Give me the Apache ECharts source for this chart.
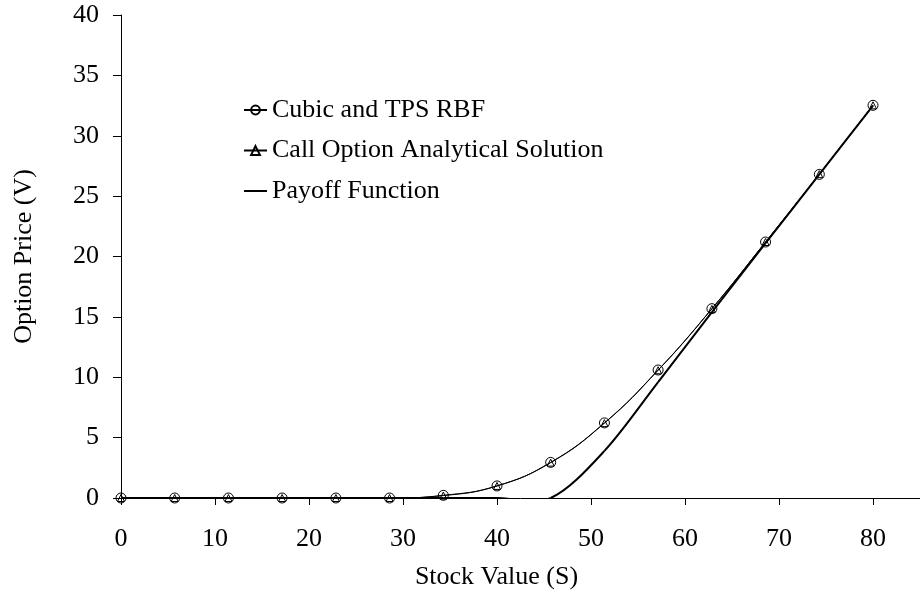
<!DOCTYPE html>
<html>
<head>
<meta charset="utf-8">
<script src="https://cdn.jsdelivr.net/npm/echarts@6/dist/echarts.min.js"></script>
<style>
  html, body { margin: 0; padding: 0; background: #fff; }
  #chart { width: 920px; height: 596px; }
</style>
</head>
<body>
<div id="chart"></div>
<script>
// Stock values at which the option price was evaluated
const stockValues = [0, 5.71, 11.43, 17.14, 22.86, 28.57, 34.29, 40, 45.71, 51.43, 57.14, 62.86, 68.57, 74.29, 80];

// Option prices from the cubic / TPS radial basis function scheme
const rbfPrices = [0, 0, 0, 0, 0, 0, 0.22, 1.0, 2.95, 6.22, 10.6, 15.68, 21.2, 26.8, 32.52];

// Option prices from the Black-Scholes analytical call formula
const analyticPrices = [0, 0, 0, 0, 0, 0, 0.2, 1.0, 2.93, 6.2, 10.58, 15.66, 21.2, 26.82, 32.52];

// Payoff max(S - K, 0) at the same stock values
const payoffValues = [0, 0, 0, 0, 0, 0, 0, 0, 0, 3.9, 9.6, 15.4, 21.1, 26.8, 32.5];

const seriesNames = ['Cubic and TPS RBF', 'Call Option Analytical Solution', 'Payoff Function'];

const xTicks = { min: 0, max: 85, interval: 10 };
const yTicks = { min: 0, max: 40, interval: 5 };

const FONT = "'Liberation Serif', 'Times New Roman', serif";

const pairs = (ys) => stockValues.map((x, i) => [x, ys[i]]);

// Catmull-Rom style smoothed segment between point i and i+1 (spreadsheet-like smoothing)
function smoothSegment(api, xs, ys, i) {
  const n = xs.length;
  const pt = (k) => api.coord([xs[Math.max(0, Math.min(n - 1, k))], ys[Math.max(0, Math.min(n - 1, k))]]);
  const p0 = pt(i - 1), p1 = pt(i), p2 = pt(i + 1), p3 = pt(i + 2);
  const t = 1 / 6;
  return {
    x1: p1[0], y1: p1[1],
    cpx1: p1[0] + (p2[0] - p0[0]) * t, cpy1: p1[1] + (p2[1] - p0[1]) * t,
    cpx2: p2[0] - (p3[0] - p1[0]) * t, cpy2: p2[1] - (p3[1] - p1[1]) * t,
    x2: p2[0], y2: p2[1]
  };
}

const chart = echarts.init(document.getElementById('chart'), null, { renderer: 'canvas' });

chart.setOption({
  animation: false,
  backgroundColor: '#fff',
  textStyle: { fontFamily: FONT, color: '#000' },
  grid: { left: 121, top: 15, right: -4, bottom: 98 },
  legend: {
    orient: 'vertical',
    left: 243,
    top: 97,
    padding: 0,
    itemWidth: 23,
    itemHeight: 11,
    itemGap: 14.5,
    data: [
      { name: seriesNames[0] },
      { name: seriesNames[1] },
      { name: seriesNames[2], icon: 'path://M0 0 L23 0 L23 2 L0 2 Z' }
    ],
    textStyle: { fontFamily: FONT, fontSize: 26, color: '#000' }
  },
  xAxis: {
    type: 'value',
    min: xTicks.min,
    max: xTicks.max,
    interval: xTicks.interval,
    name: 'Stock Value (S)',
    nameLocation: 'middle',
    nameGap: 66,
    nameTextStyle: { fontFamily: FONT, fontSize: 26, color: '#000', padding: [0, 48, 0, 0] },
    axisLine: { lineStyle: { color: '#000', width: 1 } },
    axisTick: { show: true, length: 7, lineStyle: { color: '#000' } },
    axisLabel: { fontFamily: FONT, fontSize: 26, color: '#000', margin: 28, showMaxLabel: false },
    splitLine: { show: false }
  },
  yAxis: {
    type: 'value',
    min: yTicks.min,
    max: yTicks.max,
    interval: yTicks.interval,
    name: 'Option Price (V)',
    nameLocation: 'middle',
    nameGap: 84,
    nameTextStyle: { fontFamily: FONT, fontSize: 26, color: '#000' },
    axisLine: { show: true, lineStyle: { color: '#000', width: 1 } },
    axisTick: { show: true, length: 8, lineStyle: { color: '#000' } },
    axisLabel: { fontFamily: FONT, fontSize: 26, color: '#000', margin: 22 },
    splitLine: { show: false }
  },
  series: [
    {
      name: seriesNames[0],
      type: 'line',
      smooth: 0.45,
      data: pairs(rbfPrices),
      symbol: 'circle',
      symbolSize: 10,
      lineStyle: { color: '#000', width: 1 },
      itemStyle: { color: 'rgba(255,255,255,0)', borderColor: '#000', borderWidth: 1 },
      z: 3
    },
    {
      name: seriesNames[1],
      type: 'line',
      smooth: 0.45,
      data: pairs(analyticPrices),
      symbol: 'triangle',
      symbolSize: 7,
      lineStyle: { color: '#000', width: 1 },
      itemStyle: { color: 'rgba(255,255,255,0)', borderColor: '#000', borderWidth: 1 },
      z: 4
    },
    {
      name: seriesNames[2],
      type: 'custom',
      clip: true,
      data: pairs(payoffValues),
      encode: { x: 0, y: 1 },
      itemStyle: { color: '#000' },
      z: 2,
      renderItem: function (params, api) {
        const i = params.dataIndex;
        if (i >= stockValues.length - 1) return null;
        return {
          type: 'bezierCurve',
          shape: smoothSegment(api, stockValues, payoffValues, i),
          style: { stroke: '#000', lineWidth: 2, fill: null }
        };
      }
    }
  ]
});
</script>
</body>
</html>
